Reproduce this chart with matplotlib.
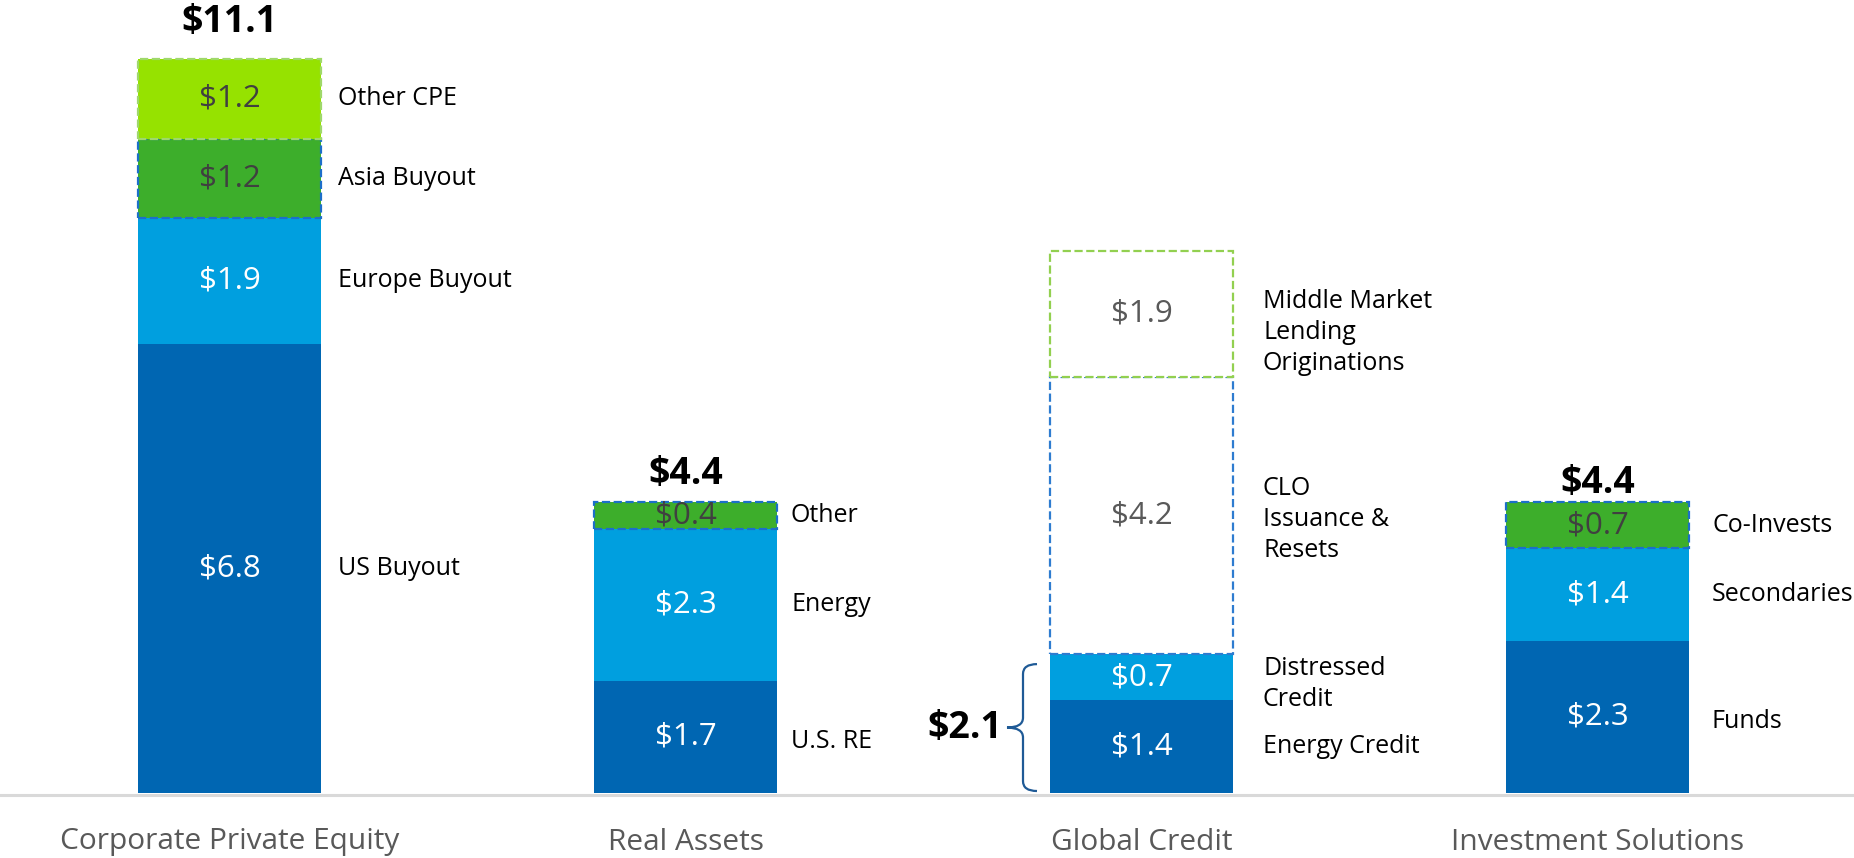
import matplotlib
matplotlib.use("Agg")
import matplotlib.pyplot as plt
from matplotlib.path import Path
from matplotlib.patches import PathPatch

# ---------------- data ----------------
categories = ["Corporate Private Equity", "Real Assets", "Global Credit", "Investment Solutions"]

cpe_labels = ["US Buyout", "Europe Buyout", "Asia Buyout", "Other CPE"]
cpe_values = [6.8, 1.9, 1.2, 1.2]

ra_labels = ["U.S. RE", "Energy", "Other"]
ra_values = [1.7, 2.3, 0.4]

gc_labels = ["Energy Credit", "Distressed\nCredit", "CLO\nIssuance &\nResets",
             "Middle Market\nLending\nOriginations"]
gc_values = [1.4, 0.7, 4.2, 1.9]

is_labels = ["Funds", "Secondaries", "Co-Invests"]
is_values = [2.3, 1.4, 0.7]

# how many bottom segments make up the headline total of each category
total_parts = [4, 3, 2, 3]

# ---------------- styles / layout ----------------
cpe_styles = ["dark", "light", "green_dash", "lime_dash"]
ra_styles = ["dark", "light", "green_dash"]
gc_styles = ["dark", "light", "blue_box", "green_box"]
is_styles = ["dark", "light", "green_dash"]

STY = {
    "dark":       dict(fc="#0066B2", ec="none", ls="-", tc="white"),
    "light":      dict(fc="#009FDF", ec="none", ls="-", tc="white"),
    "green_dash": dict(fc="#3DAE2B", ec="#1C6FC9", ls="--", tc="#404040"),
    "lime_dash":  dict(fc="#96E200", ec="#9FD86A", ls="--", tc="#404040"),
    "blue_box":   dict(fc="white", ec="#2E7CD0", ls="--", tc="#595959"),
    "green_box":  dict(fc="white", ec="#92D050", ls="--", tc="#595959"),
}

PX = 456.0          # pixels per category step
PY = 66.1           # pixels per unit value
W, H = 1854, 858
X0PX, Y0PX = 229.5, 793
bar_w = 183 / PX
label_gap_px = [17, 14, 30, 23]
total_gap_px = [27, 18, None, 9]
# extra downward shift (px) of side labels, keyed by (category, segment)
label_dy_px = {(2, 1): 7, (2, 2): 4, (2, 3): 19, (1, 0): 5, (3, 0): 5}

plt.rcParams["font.family"] = ["Open Sans", "DejaVu Sans"]

fig = plt.figure(figsize=(W / 100, H / 100), dpi=100)
ax = fig.add_axes([0, 0, 1, 1])
ax.set_xlim(-X0PX / PX, (W - X0PX) / PX)
ax.set_ylim(-(H - Y0PX) / PY, Y0PX / PY)
ax.axis("off")

ax.axhline(-1.5 / PY, color="#D9D9D9", lw=2.2, zorder=0)

series = [
    (cpe_values, cpe_labels, cpe_styles),
    (ra_values, ra_labels, ra_styles),
    (gc_values, gc_labels, gc_styles),
    (is_values, is_labels, is_styles),
]

for i, (vals, labs, stys) in enumerate(series):
    bottom = 0.0
    for j, (v, lab, s) in enumerate(zip(vals, labs, stys)):
        st = STY[s]
        ax.bar(i, v, bottom=bottom, width=bar_w, color=st["fc"],
               edgecolor=st["ec"], linestyle=st["ls"],
               linewidth=1.6 if st["ls"] == "--" else 0, zorder=2)
        mid = bottom + v / 2
        ax.text(i, mid, f"${v:.1f}", ha="center", va="center",
                fontsize=22.5, color=st["tc"], zorder=4)
        dy = label_dy_px.get((i, j), 0) / PY
        ax.text(i + bar_w / 2 + label_gap_px[i] / PX, mid - dy, lab,
                ha="left", va="center", fontsize=18, color="black",
                linespacing=1.32, zorder=4)
        bottom += v
    total = sum(vals[:total_parts[i]])
    if total_gap_px[i] is not None:
        ax.text(i, total + total_gap_px[i] / PY, f"${total:.1f}", ha="center",
                va="baseline", fontsize=27, fontweight="bold", color="black")
    ax.text(i, -(842 - Y0PX) / PY, categories[i], ha="center", va="center",
            fontsize=21.5, color="#595959")

# brace for Global Credit
gi = 2
left = gi - bar_w / 2
x_end = left - 13 / PX
x_v = left - 27 / PX
x_tip = left - 43 / PX
top = sum(gc_values[:2]) - 0.15
bot = 0.03
mid = (top + bot) / 2
r = 0.15
verts = [(x_end, top), (x_v, top), (x_v, top - r),
         (x_v, mid + r), (x_v, mid), (x_tip, mid),
         (x_v, mid), (x_v, mid - r),
         (x_v, bot + r), (x_v, bot), (x_end, bot)]
codes = [Path.MOVETO, Path.CURVE3, Path.CURVE3,
         Path.LINETO, Path.CURVE3, Path.CURVE3,
         Path.CURVE3, Path.CURVE3,
         Path.LINETO, Path.CURVE3, Path.CURVE3]
ax.add_patch(PathPatch(Path(verts, codes), fc="none", ec="#1F5A96", lw=1.6))
gc_total = sum(gc_values[:total_parts[gi]])
ax.text(x_tip - 5 / PX, mid, f"${gc_total:.1f}", ha="right", va="center",
        fontsize=27, fontweight="bold", color="black")

fig.savefig("out.png", dpi=100)
